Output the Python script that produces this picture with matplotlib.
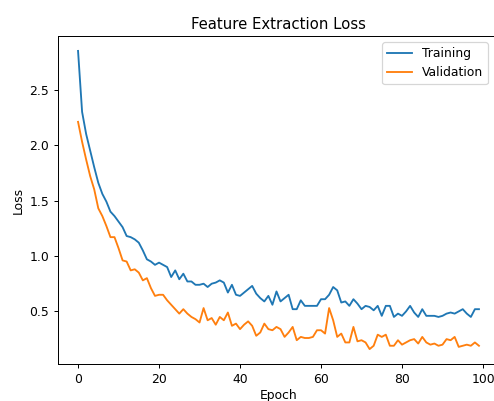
import matplotlib
matplotlib.use("Agg")
from matplotlib import pyplot as plt

import numpy as np

# loss per epoch
train_loss = [2.85, 2.30, 2.10, 1.95, 1.80, 1.66, 1.56, 1.49, 1.40, 1.36,
              1.31, 1.26, 1.18, 1.17, 1.15, 1.12, 1.05, 0.97, 0.95, 0.92,
              0.94, 0.92, 0.90, 0.81, 0.87, 0.79, 0.84, 0.77, 0.77, 0.74,
              0.74, 0.75, 0.72, 0.75, 0.76, 0.78, 0.76, 0.67, 0.74, 0.65,
              0.64, 0.67, 0.70, 0.73, 0.66, 0.62, 0.59, 0.64, 0.56, 0.68,
              0.59, 0.62, 0.65, 0.52, 0.52, 0.60, 0.55, 0.55, 0.55, 0.55,
              0.61, 0.61, 0.65, 0.72, 0.69, 0.58, 0.59, 0.55, 0.61, 0.57,
              0.52, 0.55, 0.54, 0.51, 0.55, 0.46, 0.55, 0.55, 0.45, 0.48,
              0.46, 0.50, 0.55, 0.49, 0.45, 0.52, 0.46, 0.46, 0.46, 0.45,
              0.46, 0.48, 0.49, 0.48, 0.50, 0.52, 0.48, 0.45, 0.52, 0.52]

val_loss = [2.21, 2.03, 1.87, 1.72, 1.60, 1.43, 1.36, 1.27, 1.17, 1.17,
            1.07, 0.96, 0.95, 0.87, 0.88, 0.85, 0.78, 0.80, 0.71, 0.64,
            0.65, 0.65, 0.60, 0.56, 0.52, 0.48, 0.52, 0.48, 0.45, 0.43,
            0.40, 0.53, 0.42, 0.44, 0.38, 0.45, 0.42, 0.49, 0.37, 0.39,
            0.34, 0.38, 0.41, 0.37, 0.28, 0.31, 0.39, 0.34, 0.33, 0.36,
            0.34, 0.27, 0.31, 0.36, 0.24, 0.27, 0.26, 0.26, 0.27, 0.33,
            0.33, 0.30, 0.53, 0.42, 0.27, 0.30, 0.22, 0.22, 0.36, 0.23,
            0.24, 0.22, 0.16, 0.19, 0.29, 0.27, 0.29, 0.19, 0.19, 0.24,
            0.20, 0.22, 0.24, 0.25, 0.21, 0.27, 0.22, 0.20, 0.21, 0.19,
            0.20, 0.25, 0.24, 0.27, 0.18, 0.19, 0.20, 0.19, 0.22, 0.19]

epochs = np.arange(len(train_loss))

dpi = 89
fig = plt.figure(figsize=(494 / dpi, 401 / dpi), dpi=dpi)
# the reference is cropped on the right, so the axes run past the figure edge
ax = fig.add_axes([58 / 494, 1 - 364 / 401, 441 / 494, 328 / 401])

ax.plot(epochs, train_loss, label="Training")
ax.plot(epochs, val_loss, label="Validation")

ax.set_title("Feature Extraction Loss")
ax.set_xlabel("Epoch", labelpad=2.5)
ax.set_ylabel("Loss")
ax.set_xticks([0, 20, 40, 60, 80, 100])
ax.set_yticks([0.5, 1.0, 1.5, 2.0, 2.5])
ax.legend(loc="upper right", bbox_to_anchor=(1 - 5 / 441, 1))

fig.savefig("out.png", dpi=dpi)
